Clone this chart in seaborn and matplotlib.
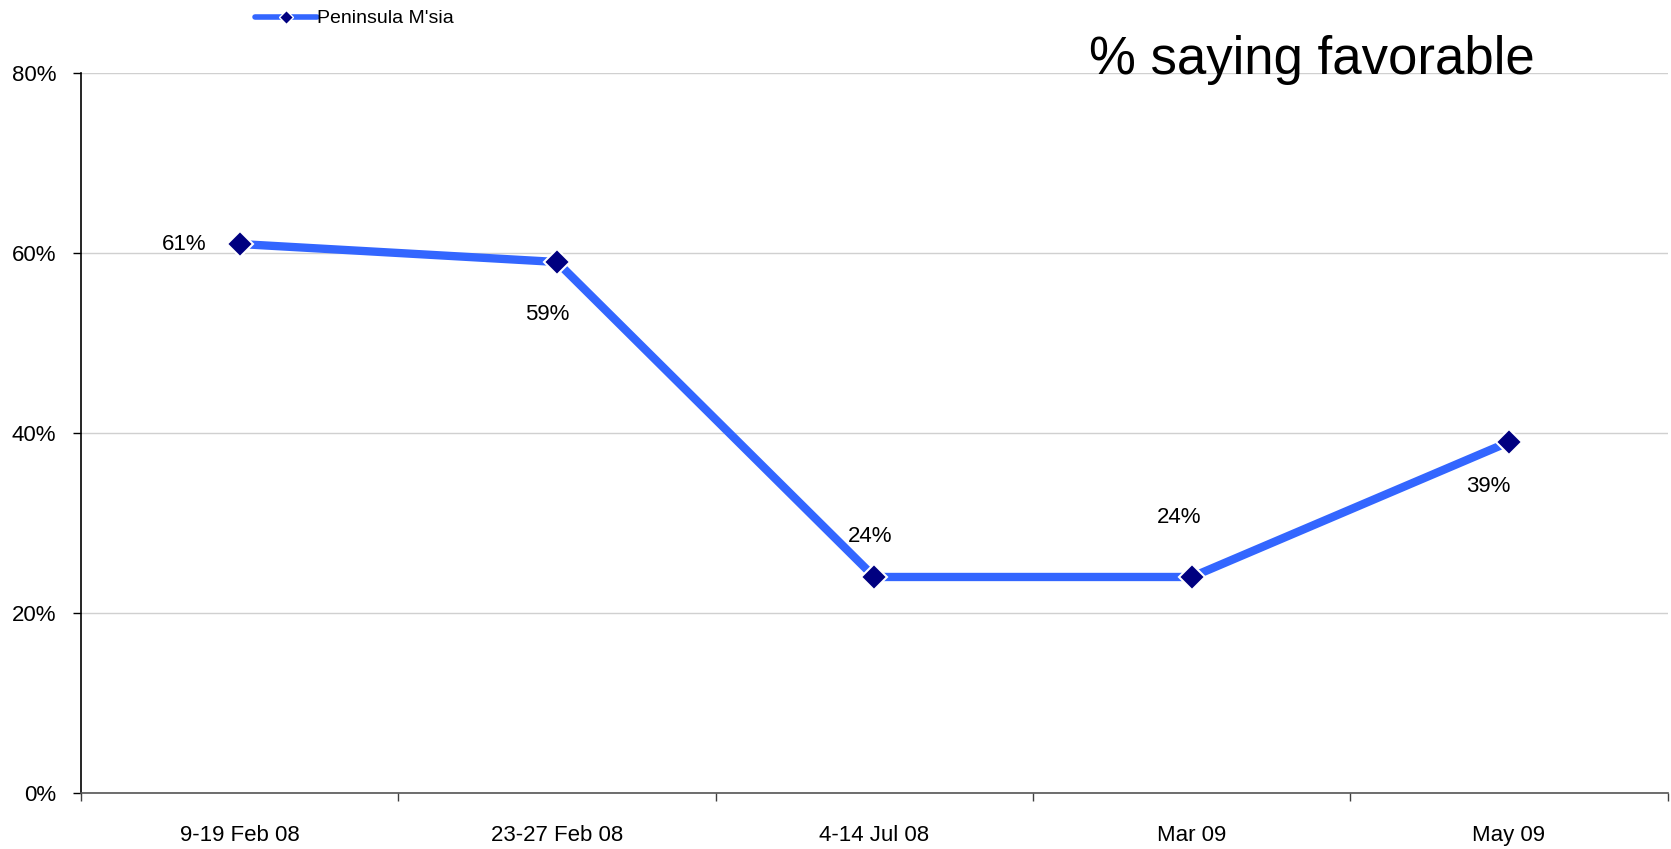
import pandas as pd
import seaborn as sns
import matplotlib.pyplot as plt
from matplotlib.lines import Line2D
from matplotlib.ticker import FixedLocator, PercentFormatter

# data
periods = ["9-19 Feb 08", "23-27 Feb 08", "4-14 Jul 08", "Mar 09", "May 09"]
favorable = [0.61, 0.59, 0.24, 0.24, 0.39]
value_labels = ["61%", "59%", "24%", "24%", "39%"]
series_name = "Peninsula M'sia"

df = pd.DataFrame({"period": periods, "favorable": favorable})

sns.set_style("white")
plt.rcParams["font.family"] = ["Liberation Sans", "DejaVu Sans"]
plt.rcParams["text.color"] = "black"
plt.rcParams["xtick.color"] = "black"
plt.rcParams["ytick.color"] = "black"

line_col = "#3366ff"
mark_col = "#000080"

fig = plt.figure(figsize=(16.71, 8.49), dpi=100)
ax = fig.add_axes([0.0485, 0.066, 0.9495, 0.848])

sns.lineplot(data=df, x="period", y="favorable", ax=ax, color=line_col,
             linewidth=6, marker="D", markersize=13,
             markerfacecolor=mark_col, markeredgecolor="white",
             markeredgewidth=1.5, zorder=3)

# data labels, offsets in points
offsets = [(-24, 0), (-7, -38), (-3, 29), (-9, 43), (-15, -32)]
aligns = ["right", "center", "center", "center", "center"]
for i, (lab, off, ha) in enumerate(zip(value_labels, offsets, aligns)):
    ax.annotate(lab, (i, favorable[i]), xytext=off, textcoords="offset points",
                ha=ha, va="center", fontsize=16)

ax.set_xlim(-0.5, 4.5)
ax.set_ylim(0, 0.8)
ax.set_yticks([0, 0.2, 0.4, 0.6, 0.8])
ax.yaxis.set_major_formatter(PercentFormatter(1.0, decimals=0))
ax.set_xlabel("")
ax.set_ylabel("")

ax.yaxis.grid(True, color="#d0d0d0", linewidth=1)
ax.set_axisbelow(True)

# category ticks between labels (Excel style)
ax.xaxis.set_minor_locator(FixedLocator([-0.5, 0.5, 1.5, 2.5, 3.5, 4.5]))
ax.tick_params(axis="x", which="major", length=0, pad=23, labelsize=16)
ax.tick_params(axis="x", which="minor", length=6, width=1, color="#404040",
               direction="out", bottom=True)
ax.tick_params(axis="y", which="major", length=6, width=1, color="black",
               direction="out", pad=12, labelsize=16, left=True)

for s in ["top", "right"]:
    ax.spines[s].set_visible(False)
ax.spines["left"].set_color("black")
ax.spines["left"].set_linewidth(1.2)
ax.spines["bottom"].set_color("#555555")
ax.spines["bottom"].set_linewidth(1.2)

handle = Line2D([], [], color=line_col, linewidth=4, marker="D", markersize=7,
                markerfacecolor=mark_col, markeredgecolor="white")
fig.legend([handle], [series_name], loc="center left",
           bbox_to_anchor=(0.148, 0.978), frameon=False, fontsize=14,
           handlelength=3.2, handletextpad=0.0, borderaxespad=0)

fig.text(0.652, 0.913, "% saying favorable", fontsize=38, va="baseline",
         ha="left")

fig.savefig("out.png", dpi=100)
